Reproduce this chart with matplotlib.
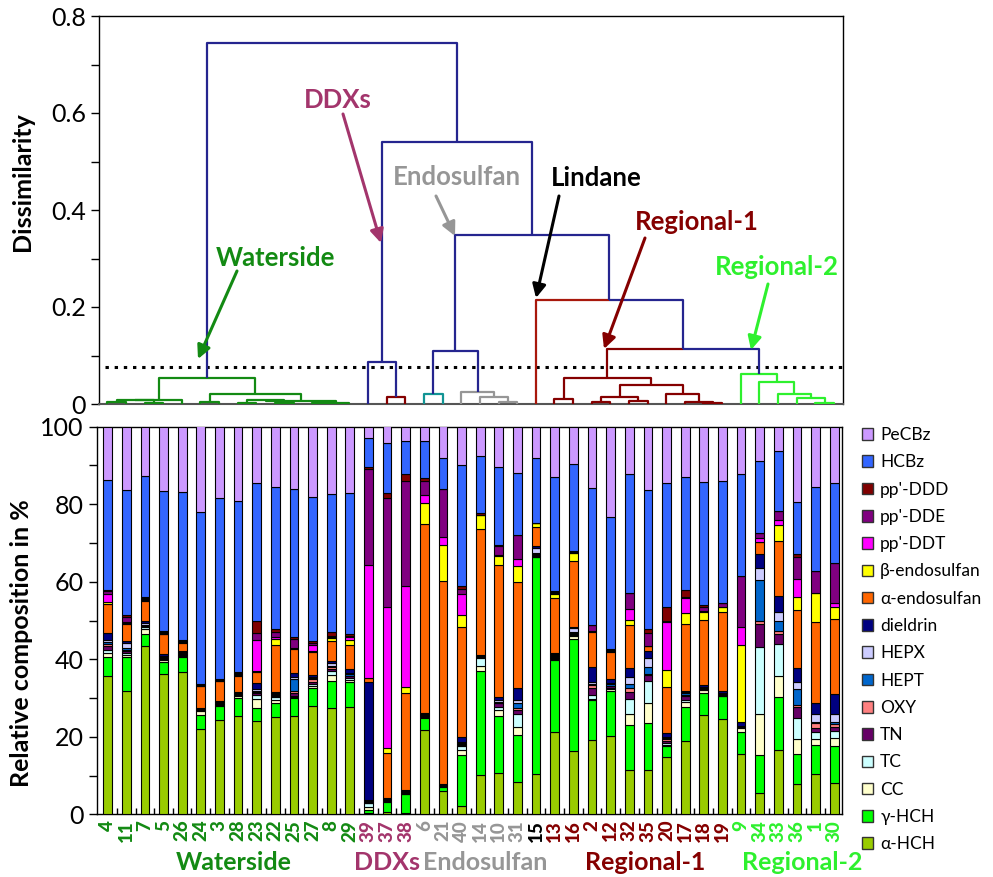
import matplotlib
matplotlib.use("Agg")
import matplotlib.pyplot as plt
from matplotlib.patches import Patch
from matplotlib.ticker import FixedLocator, FixedFormatter

plt.rcParams['font.family'] = ['Lato', 'DejaVu Sans']

# ---------------- data ----------------
samples = ['4', '11', '7', '5', '26', '24', '3', '28', '23', '22', '25', '27', '8', '29',
           '39', '37', '38', '6', '21', '40', '14', '10', '31', '15',
           '13', '16', '2', '12', '32', '35', '20', '17', '18', '19',
           '9', '34', '33', '36', '1', '30']
groups = (['Waterside'] * 14 + ['DDXs'] * 3 + ['Endosulfan'] * 6 + ['Lindane'] +
          ['Regional-1'] * 10 + ['Regional-2'] * 6)

a_hch = [35.7, 31.8, 43.4, 36.1, 36.6, 22.0, 24.3, 25.4, 24.1, 25.0, 25.4, 28.0, 27.3, 27.6,
         0.4, 0.7, 0.4, 21.8, 6.1, 2.1, 10.1, 10.7, 8.4, 10.4,
         21.2, 16.3, 19.2, 20.2, 11.4, 11.4, 14.9, 19.0, 25.6, 24.6,
         15.6, 5.6, 16.6, 7.8, 10.4, 8.2]
g_hch = [4.8, 8.7, 3.0, 3.3, 3.9, 3.6, 3.7, 4.5, 3.4, 3.8, 4.5, 4.7, 7.2, 6.6,
         0.7, 2.6, 4.8, 3.1, 1.0, 13.2, 27.0, 14.7, 12.1, 55.9,
         18.6, 28.9, 10.3, 11.7, 11.6, 12.2, 2.6, 8.6, 5.8, 5.8,
         5.7, 9.7, 13.6, 7.7, 7.5, 9.4]
cc = [1.0, 0.7, 1.3, 0.3, 0.3, 1.0, 0.2, 0.6, 2.2, 0.7, 0.4, 0.5, 1.5, 0.5,
      0.9, 0.2, 0.1, 0.3, 0.1, 1.3, 1.2, 1.5, 2.0, 0.2,
      0.3, 0.8, 0.3, 0.3, 2.9, 5.2, 0.5, 1.5, 0.7, 0.2,
      0.9, 10.6, 5.5, 3.9, 1.4, 2.0]
tc = [1.0, 0.5, 0.5, 0.3, 0.2, 0.2, 0.2, 0.2, 1.1, 0.7, 0.3, 0.5, 1.1, 0.5,
      0.8, 0.1, 0.1, 0.2, 0.1, 0.9, 1.9, 0.9, 3.3, 0.2,
      0.3, 0.3, 1.0, 0.5, 3.8, 5.7, 0.5, 0.5, 0.2, 0.1,
      0.2, 17.2, 8.3, 5.5, 2.0, 2.0]
tn = [0.8, 0.5, 0.3, 0.3, 0.3, 0.2, 0.2, 0.2, 0.4, 0.3, 0.8, 0.5, 0.5, 0.4,
      0.2, 0.1, 0.2, 0.2, 0.1, 0.4, 0.3, 0.8, 1.1, 0.3,
      0.3, 0.3, 1.7, 0.3, 1.9, 1.4, 0.5, 1.0, 0.2, 0.2,
      0.2, 6.0, 2.6, 2.7, 0.9, 0.8]
oxy = [0.7, 0.3, 0.2, 0.2, 0.2, 0.1, 0.1, 0.1, 0.4, 0.3, 0.3, 0.6, 0.3, 0.2,
       0.2, 0.1, 0.1, 0.1, 0.1, 0.3, 0.2, 0.2, 0.5, 0.1,
       0.2, 0.2, 0.9, 0.2, 0.9, 0.3, 0.3, 0.3, 0.1, 0.1,
       0.1, 0.9, 0.6, 0.6, 1.3, 0.9]
hept = [0.5, 0.3, 0.2, 0.2, 0.2, 0.1, 0.1, 0.1, 0.3, 0.3, 3.3, 0.3, 0.3, 0.3,
        0.2, 0.1, 0.1, 0.1, 0.0, 0.3, 0.1, 0.2, 1.2, 0.2,
        0.2, 0.2, 0.2, 0.3, 1.0, 1.9, 0.3, 0.3, 0.1, 0.1,
        0.1, 10.4, 2.8, 4.0, 0.4, 0.6]
hepx = [0.5, 1.4, 0.5, 0.2, 0.2, 0.1, 0.2, 0.2, 0.3, 0.3, 0.3, 0.3, 0.8, 0.4,
        0.2, 0.1, 0.1, 0.1, 0.1, 0.2, 0.1, 0.6, 1.0, 1.5,
        0.2, 1.0, 0.6, 0.5, 1.9, 2.2, 0.3, 0.3, 0.2, 0.1,
        0.1, 3.1, 2.1, 2.0, 2.0, 2.0]
dieldrin = [1.7, 0.6, 0.5, 0.5, 0.3, 0.2, 0.2, 0.3, 1.6, 0.2, 1.1, 0.5, 0.6, 1.1,
            30.6, 0.2, 0.3, 0.2, 0.1, 1.3, 0.2, 0.7, 3.1, 0.3,
            0.2, 0.2, 3.7, 1.0, 2.4, 1.9, 1.0, 0.4, 0.5, 0.5,
            1.0, 3.7, 4.1, 3.5, 2.9, 5.1]
a_endo = [7.5, 4.3, 5.2, 5.0, 2.1, 5.6, 5.2, 4.1, 3.0, 12.1, 6.2, 6.1, 5.2, 6.1,
          0.9, 11.5, 25.2, 48.7, 52.4, 28.2, 32.4, 34.0, 27.3, 5.1,
          14.2, 17.2, 9.2, 7.0, 11.0, 1.3, 11.9, 17.2, 16.6, 20.6,
          0.0, 3.0, 14.2, 15.0, 20.7, 19.3]
b_endo = [0.7, 0.3, 0.1, 0.2, 0.1, 0.1, 0.1, 0.2, 0.3, 1.4, 0.2, 0.2, 0.6, 1.3,
          0.0, 1.4, 1.5, 5.6, 9.5, 3.2, 3.7, 2.3, 4.1, 0.9,
          1.1, 1.9, 0.1, 0.1, 1.3, 0.0, 4.5, 2.9, 2.3, 1.3,
          19.8, 0.0, 4.3, 3.4, 7.7, 3.1]
ddt = [1.9, 0.3, 0.4, 0.2, 0.1, 0.1, 0.1, 0.2, 7.9, 0.7, 0.2, 1.5, 0.3, 0.8,
       29.2, 36.4, 26.0, 2.0, 2.0, 5.4, 0.0, 0.2, 1.7, 0.0,
       0.2, 0.1, 0.1, 0.1, 2.8, 0.0, 12.2, 3.7, 0.1, 0.0,
       4.7, 1.0, 1.1, 4.6, 0.0, 1.0]
dde = [0.7, 1.3, 0.3, 0.3, 0.2, 0.1, 0.2, 0.3, 1.7, 1.3, 2.2, 0.6, 0.4, 0.2,
       24.7, 28.0, 27.2, 3.6, 12.3, 1.2, 0.1, 2.5, 6.3, 0.0,
       0.4, 0.3, 1.5, 0.2, 4.1, 3.4, 0.3, 0.4, 1.0, 0.8,
       13.1, 1.5, 2.5, 5.6, 5.6, 10.5]
ddd = [0.3, 0.3, 0.2, 0.2, 0.2, 0.1, 0.2, 0.4, 3.2, 0.6, 0.6, 0.5, 1.0, 0.4,
       0.7, 1.4, 1.7, 0.7, 0.0, 1.0, 0.5, 0.3, 0.0, 0.0,
       0.3, 0.3, 0.0, 0.3, 0.0, 0.9, 3.8, 1.8, 0.6, 0.0,
       0.0, 0.0, 0.0, 0.8, 0.0, 0.0]
hcbz = [28.4, 32.4, 31.3, 36.1, 38.2, 44.5, 46.5, 44.0, 35.7, 36.8, 38.0, 37.1, 35.5, 36.4,
        7.3, 13.0, 8.6, 9.7, 8.0, 31.1, 14.7, 20.1, 15.9, 16.7,
        29.2, 22.4, 35.3, 34.1, 30.7, 35.8, 31.8, 29.0, 31.8, 31.7,
        26.2, 18.5, 15.5, 13.6, 21.6, 20.5]
pecbz = [13.8, 16.3, 12.6, 16.6, 16.9, 22.4, 18.5, 19.2, 14.4, 15.5, 16.2, 18.1, 17.4, 17.2,
         3.0, 4.3, 3.6, 3.6, 8.2, 9.9, 7.5, 10.3, 12.0, 8.2,
         13.1, 9.6, 15.9, 23.2, 12.3, 16.2, 14.6, 13.1, 14.2, 13.9,
         12.3, 8.8, 6.2, 19.3, 15.6, 14.6]

# stacked from bottom to top
components = ['α-HCH', 'γ-HCH', 'CC', 'TC', 'TN', 'OXY', 'HEPT', 'HEPX', 'dieldrin',
              'α-endosulfan', 'β-endosulfan', "pp'-DDT", "pp'-DDE", "pp'-DDD", 'HCBz', 'PeCBz']
series = [a_hch, g_hch, cc, tc, tn, oxy, hept, hepx, dieldrin,
          a_endo, b_endo, ddt, dde, ddd, hcbz, pecbz]
comp_colors = ['#99CC00', '#00FF00', '#FFFFCC', '#CCFFFF', '#660066', '#FF8080', '#0066CC',
               '#CCCCFF', '#000080', '#FF6600', '#FFFF00', '#FF00FF', '#800080', '#800000',
               '#3366FF', '#CC99FF']

# dendrogram merges: (left node, right node, dissimilarity); leaves 0..39, new nodes 40..
merges = [
    (0, 1, 0.004), (2, 3, 0.003), (40, 41, 0.008), (42, 4, 0.009),
    (5, 6, 0.004), (7, 8, 0.003), (9, 10, 0.002), (45, 46, 0.008),
    (11, 12, 0.002), (48, 13, 0.003), (47, 49, 0.007), (44, 50, 0.021),
    (43, 51, 0.054),                                   # Waterside -> 52
    (15, 16, 0.015), (14, 53, 0.087),                  # DDXs -> 54
    (17, 18, 0.021), (21, 22, 0.005), (20, 56, 0.014), (19, 57, 0.024),
    (55, 58, 0.109),                                   # Endosulfan -> 59
    (24, 25, 0.010), (26, 27, 0.005), (28, 29, 0.006), (61, 62, 0.015),
    (32, 33, 0.003), (31, 64, 0.005), (30, 65, 0.021), (63, 66, 0.039),
    (60, 67, 0.053),                                   # Regional-1 -> 68
    (38, 39, 0.003), (37, 69, 0.012), (36, 70, 0.021), (35, 71, 0.045),
    (34, 72, 0.062),                                   # Regional-2 -> 73
    (68, 73, 0.113), (23, 74, 0.214), (59, 75, 0.348), (54, 76, 0.540),
    (52, 77, 0.744),
]
cut_level = 0.077

# ---------------- styles ----------------
NAVY = '#25258F'
WGREEN = '#138A13'
DRED = '#850000'
LRED = '#A8180C'
TEAL = '#129494'
GREY = '#969696'
BGREEN = '#2EF02E'
DDXC = '#A3356C'

leg_colors = ([(WGREEN, WGREEN)] * 13 + [(DRED, DRED), (NAVY, NAVY)] +
              [(TEAL, TEAL)] + [(GREY, GREY)] * 3 + [(NAVY, NAVY)] +
              [(DRED, DRED)] * 9 + [(BGREEN, BGREEN)] * 5 +
              [(DRED, NAVY), (LRED, NAVY), (NAVY, NAVY), (NAVY, NAVY), (NAVY, NAVY)])

group_colors = {'Waterside': WGREEN, 'DDXs': DDXC, 'Endosulfan': GREY, 'Lindane': 'black',
                'Regional-1': DRED, 'Regional-2': BGREEN}

W, H = 993, 877
fig = plt.figure(figsize=(W / 100, H / 100), dpi=100)

# ---------------- dendrogram ----------------
axd = fig.add_axes([99 / W, 1 - 404 / H, (843 - 99) / W, (404 - 16) / H])
n = len(samples)
xpos = {i: float(i) for i in range(n)}
hpos = {i: 0.0 for i in range(n)}
for k, (a, b, h) in enumerate(merges):
    node = n + k
    xa, xb = xpos[a], xpos[b]
    xm = (xa + xb) / 2
    ca, cb = leg_colors[k]
    axd.plot([xa, xa, xm], [hpos[a], h, h], color=ca, lw=1.6, solid_capstyle='butt', zorder=3)
    axd.plot([xm, xb, xb], [h, h, hpos[b]], color=cb, lw=1.6, solid_capstyle='butt', zorder=3)
    xpos[node] = xm
    hpos[node] = h

axd.axhline(cut_level, xmin=0.008, xmax=1, color='black', lw=2.2,
            linestyle=(0, (1.1, 1.9)), zorder=2)
axd.set_xlim((99 - 107.3) / 18.63, (843 - 107.3) / 18.63)
axd.set_ylim(0, 0.8)
axd.set_xticks([])
axd.yaxis.set_major_locator(FixedLocator([0, 0.2, 0.4, 0.6, 0.8]))
axd.yaxis.set_major_formatter(FixedFormatter(['0', '0.2', '0.4', '0.6', '0.8']))
axd.yaxis.set_minor_locator(FixedLocator([0.1, 0.3, 0.5, 0.7]))
axd.tick_params(axis='y', which='both', direction='out', length=6, width=1, labelsize=18)
for s in ['top', 'right', 'left']:
    axd.spines[s].set_linewidth(1)
axd.spines['bottom'].set_color('#555555')
axd.spines['bottom'].set_linewidth(1.5)


def px2d(px, py):
    return (px - 107.3) / 18.63, (404 - py) * 0.8 / 388


annots = [
    ('Waterside', WGREEN, (275, 258), (237, 271), (198, 359)),
    ('DDXs', DDXC, (338, 100), (343, 114), (381, 243)),
    ('Endosulfan', GREY, (457, 177), (436, 196), (455, 236)),
    ('Lindane', 'black', (596, 178), (559, 196), (536, 298)),
    ('Regional-1', DRED, (697, 222), (645, 238), (604, 349)),
    ('Regional-2', BGREEN, (777, 267), (768, 284), (751, 350)),
]
for txt, col, tp, tail, head in annots:
    axd.text(*px2d(*tp), txt, color=col, fontsize=18.5, fontweight='bold',
             ha='center', va='center', zorder=5)
    axd.annotate('', xy=px2d(*head), xytext=px2d(*tail),
                 arrowprops=dict(arrowstyle='-|>', color=col, lw=2.2,
                                 mutation_scale=20, shrinkA=0, shrinkB=0), zorder=5)

# ---------------- stacked bars ----------------
axb = fig.add_axes([97 / W, 1 - 814.3 / H, (842 - 97) / W, (814.3 - 426.7) / H])
x = list(range(n))
bottom = [0.0] * n
for vals, col in zip(series, comp_colors):
    axb.bar(x, vals, bottom=bottom, width=0.47, color=col, edgecolor='black',
            linewidth=0.8, zorder=3)
    bottom = [b + v for b, v in zip(bottom, vals)]

axb.set_xlim(-0.57, 39.42)
axb.set_ylim(0, 100)
axb.set_xticks(x)
axb.set_xticklabels(samples, rotation=90, fontweight='black', fontsize=13.5)
for lab, g in zip(axb.get_xticklabels(), groups):
    lab.set_color(group_colors[g])
axb.set_xticks([i + 0.5 for i in range(n - 1)], minor=True)
axb.tick_params(axis='x', which='major', length=0, pad=4)
axb.tick_params(axis='x', which='minor', direction='in', length=4, width=1)
axb.yaxis.set_major_locator(FixedLocator([0, 20, 40, 60, 80, 100]))
axb.yaxis.set_minor_locator(FixedLocator([10, 30, 50, 70, 90]))
axb.tick_params(axis='y', which='both', direction='out', length=6, width=1, labelsize=18)
for s in axb.spines.values():
    s.set_linewidth(1)

# group labels under the bars
for txt, col, cx in [('Waterside', WGREEN, 234), ('DDXs', DDXC, 387),
                     ('Endosulfan', GREY, 485), ('Regional-1', DRED, 645),
                     ('Regional-2', BGREEN, 802)]:
    fig.text(cx / W, 1 - 863 / H, txt, color=col, fontsize=18, fontweight='bold',
             ha='center', va='center')

# axis titles
fig.text(22 / W, 1 - 182 / H, 'Dissimilarity', rotation=90, fontsize=18,
         fontweight='bold', ha='center', va='center')
fig.text(22 / W, 1 - 643 / H, 'Relative composition in %', rotation=90, fontsize=18,
         fontweight='bold', ha='center', va='center')

# legend (top entry = top of stack)
handles = [Patch(facecolor=c, edgecolor='#333333', linewidth=1.0, label=l)
           for l, c in zip(components[::-1], comp_colors[::-1])]
fig.legend(handles=handles, loc='upper left', bbox_to_anchor=(862 / W, 1 - 427 / H),
           frameon=False, fontsize=12.5, handlelength=0.65, handleheight=0.65,
           handletextpad=0.4, labelspacing=0.65, borderaxespad=0, borderpad=0)

fig.savefig('out.png', dpi=100)
